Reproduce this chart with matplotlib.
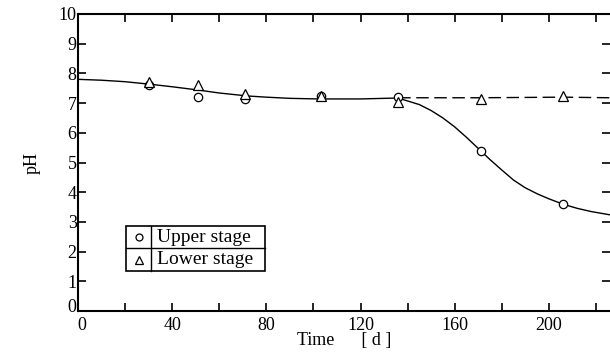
import matplotlib
matplotlib.use('Agg')
import matplotlib.pyplot as plt
import matplotlib.transforms as mtransforms
from matplotlib.lines import Line2D
from matplotlib.patches import Rectangle

# measured points
days = [30, 51, 71, 103, 136, 171, 206]
ph_upper = [7.6, 7.2, 7.15, 7.25, 7.2, 5.4, 3.6]
ph_lower = [7.7, 7.6, 7.3, 7.25, 7.05, 7.15, 7.25]

# hand-drawn trend lines
fit_x = [0, 10, 20, 30, 40, 51, 60, 72, 80, 90, 102, 120, 130, 136, 145, 150, 155, 160,
         165, 171, 175, 180, 185, 190, 195, 200, 206, 212, 218, 226]
fit_y = [7.8, 7.77, 7.72, 7.64, 7.55, 7.44, 7.34, 7.24, 7.2, 7.16, 7.14, 7.14, 7.16, 7.17,
         6.95, 6.75, 6.5, 6.2, 5.85, 5.4, 5.1, 4.75, 4.41, 4.15, 3.95, 3.78, 3.6, 3.46, 3.35, 3.24]
dash_x = [136, 171, 206, 226]
dash_y = [7.18, 7.18, 7.2, 7.18]

xticks = [0, 40, 80, 120, 160, 200]
yticks = list(range(0, 11))

plt.rcParams['font.family'] = ['Liberation Serif', 'DejaVu Serif']
plt.rcParams['font.size'] = 13

fig = plt.figure(figsize=(6.1, 3.58), dpi=100)
ax = fig.add_axes([0.128, 0.131, 0.872, 0.83])

ax.plot(fit_x, fit_y, color='k', lw=1.0)
ax.plot(dash_x, dash_y, color='k', lw=1.0, dashes=(9, 4))
ax.plot(days, ph_upper, 'o', ms=6, mfc='white', mec='k', mew=0.9, ls='none', zorder=3)
ax.plot(days, ph_lower, '^', ms=7, mfc='white', mec='k', mew=0.9, ls='none', zorder=3)

ax.set_xlim(0, 226)
ax.set_ylim(0, 10)
ax.set_xticks(xticks)
ax.set_xticks(range(20, 226, 40), minor=True)
ax.set_yticks(yticks)
ax.tick_params(direction='in', top=True, right=True, length=6, width=1.2)
ax.tick_params(axis='y', pad=1)
ax.tick_params(axis='x', pad=4)
ax.tick_params(which='minor', direction='in', top=True, length=6, width=1.2)
for s in ['left', 'bottom', 'top']:
    ax.spines[s].set_linewidth(1.5)
ax.spines['right'].set_visible(False)

# the two zeros sit close together at the corner, nudge them apart
fig.canvas.draw()
ylab0 = ax.get_yticklabels()[0]
ylab0.set_transform(ylab0.get_transform() + mtransforms.ScaledTranslation(0, 4 / 72, fig.dpi_scale_trans))
xlab0 = ax.get_xticklabels()[0]
xlab0.set_transform(xlab0.get_transform() + mtransforms.ScaledTranslation(3 / 72, 0, fig.dpi_scale_trans))

ax.set_xlabel('Time      [ d ]', labelpad=-1)
ax.set_ylabel('pH', labelpad=13)

# table-style legend
x0, y0, w, h = 0.09, 0.135, 0.261, 0.152
ax.add_patch(Rectangle((x0, y0), w, h, transform=ax.transAxes, fill=False, lw=1.2, zorder=4))
ax.add_line(Line2D([x0, x0 + w], [y0 + h / 2, y0 + h / 2], transform=ax.transAxes, color='k', lw=1.0))
ax.add_line(Line2D([x0 + 0.048, x0 + 0.048], [y0, y0 + h], transform=ax.transAxes, color='k', lw=1.0))
labels = ['Upper stage', 'Lower stage']
marks = ['o', '^']
sizes = [5, 6]
for i in range(2):
    yy = y0 + h * (0.75 - 0.5 * i)
    ax.plot([x0 + 0.024], [yy], marks[i], ms=sizes[i], mfc='white', mec='k', mew=0.9,
            transform=ax.transAxes, clip_on=False)
    ax.text(x0 + 0.058, yy, labels[i], transform=ax.transAxes, va='center', ha='left', fontsize=14)

fig.savefig('out.png', dpi=100)
